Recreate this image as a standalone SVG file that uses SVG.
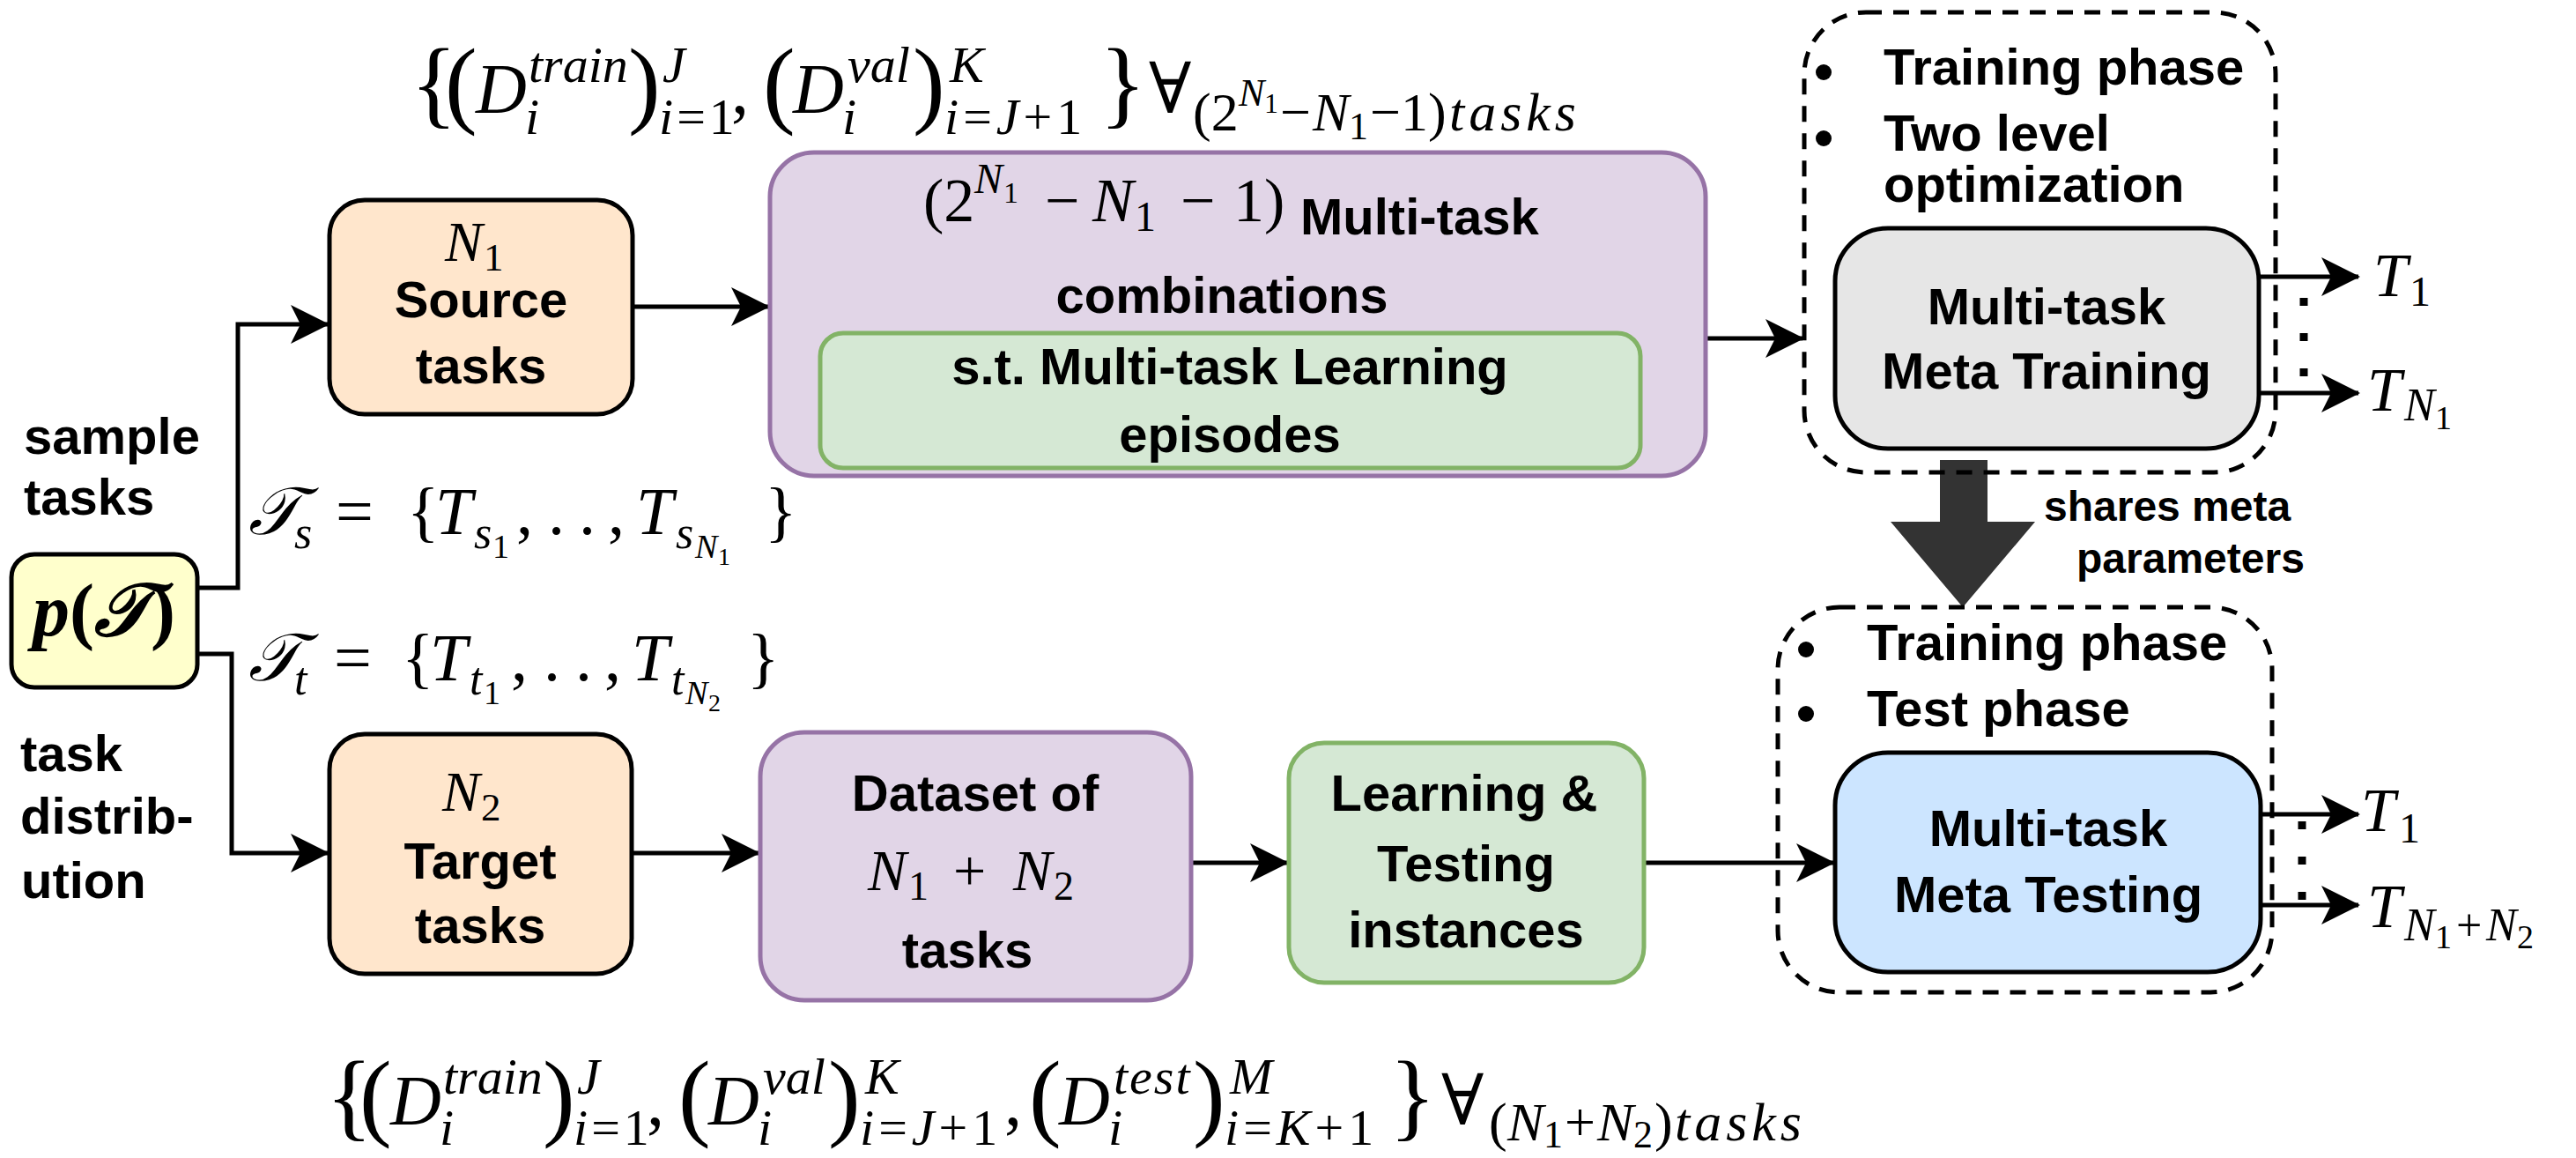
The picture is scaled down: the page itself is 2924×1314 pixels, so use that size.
<svg xmlns="http://www.w3.org/2000/svg" width="2924" height="1314" viewBox="0 0 2924 1314">
<style>
.t{font-family:"Liberation Sans",Arial,sans-serif;font-weight:700;font-size:58px;fill:#000}
.s48{font-size:48px}
.c{text-anchor:middle}
.m{font-family:"Liberation Serif","DejaVu Serif",serif;fill:#000}
.i{font-style:italic}
.box{stroke:#000;stroke-width:5}
.peach{fill:#ffe6cc}
.purple{fill:#e1d5e7;stroke:#9673a6;stroke-width:5}
.green{fill:#d5e8d4;stroke:#82b366;stroke-width:5}
.dash{fill:none;stroke:#000;stroke-width:5;stroke-dasharray:18 13}
.conn{fill:none;stroke:#000;stroke-width:5}
.dots{fill:none;stroke:#000;stroke-width:9;stroke-dasharray:9 31}
</style>
<defs>
<marker id="arr" markerUnits="userSpaceOnUse" markerWidth="44" markerHeight="44" viewBox="0 0 44 44" refX="42" refY="22" orient="auto">
<path d="M0,0 L44,22 L0,44 L11,22 Z" fill="#000"/>
</marker>
</defs>
<rect width="2924" height="1314" fill="#fff"/>

<g id="connectors">
<path class="conn" d="M224,667 H270 V368 H372" marker-end="url(#arr)"/>
<path class="conn" d="M224,742 H263 V968 H372" marker-end="url(#arr)"/>
<path class="conn" d="M718,348 H872" marker-end="url(#arr)"/>
<path class="conn" d="M1936,384 H2046" marker-end="url(#arr)"/>
<path class="conn" d="M717,968 H861" marker-end="url(#arr)"/>
<path class="conn" d="M1352,979 H1461" marker-end="url(#arr)"/>
<path class="conn" d="M1866,979 H2081" marker-end="url(#arr)"/>
<path class="conn" d="M2564,314 H2677" marker-end="url(#arr)"/>
<path class="conn" d="M2564,446 H2677" marker-end="url(#arr)"/>
<path class="conn" d="M2566,924 H2677" marker-end="url(#arr)"/>
<path class="conn" d="M2566,1027 H2677" marker-end="url(#arr)"/>
<path class="dots" d="M2615,338 V430"/>
<path class="dots" d="M2613,932 V1024"/>
<polygon points="2202,522 2256,522 2256,592 2310,592 2228,689 2146,592 2202,592" fill="#333"/>
</g>

<g id="label-shares">
<text class="t s48" x="2320" y="591">shares meta</text>
<text class="t s48" x="2357" y="650">parameters</text>
</g>

<g id="node-ptask">
<rect class="box" x="13" y="629" width="211" height="151" rx="26" fill="#ffffcc"/>
<text class="m" font-size="84" font-weight="700" x="118" y="721" text-anchor="middle"><tspan class="i">p</tspan>(<tspan class="i">𝒯</tspan>)</text>
</g>

<g id="label-left">
<text class="t" x="27" y="515">sample</text>
<text class="t" x="27" y="584">tasks</text>
<text class="t" x="23" y="875">task</text>
<text class="t" x="23" y="946">distrib-</text>
<text class="t" x="24" y="1019">ution</text>
</g>

<g id="label-Ts">
<text class="m" font-size="76"><tspan x="282" y="606" class="i">𝒯</tspan><tspan x="334" y="622" font-size="52" class="i">s</tspan><tspan x="381" y="606">=</tspan><tspan x="462" y="606">{</tspan><tspan x="494" y="606" class="i">T</tspan><tspan x="538" y="622" font-size="52" class="i">s</tspan><tspan x="559" y="633" font-size="38">1</tspan><tspan x="586" y="606">,</tspan><tspan x="622" y="606">.</tspan><tspan x="657" y="606">.</tspan><tspan x="690" y="606">,</tspan><tspan x="722" y="606" class="i">T</tspan><tspan x="767" y="622" font-size="52" class="i">s</tspan><tspan x="789" y="633" font-size="38" class="i">N</tspan><tspan x="815" y="641" font-size="28">1</tspan><tspan x="868" y="606">}</tspan></text>
</g>

<g id="label-Tt">
<text class="m" font-size="76"><tspan x="282" y="772" class="i">𝒯</tspan><tspan x="334" y="788" font-size="52" class="i">t</tspan><tspan x="379" y="772">=</tspan><tspan x="456" y="772">{</tspan><tspan x="488" y="772" class="i">T</tspan><tspan x="533" y="788" font-size="52" class="i">t</tspan><tspan x="549" y="799" font-size="38">1</tspan><tspan x="580" y="772">,</tspan><tspan x="617" y="772">.</tspan><tspan x="653" y="772">.</tspan><tspan x="686" y="772">,</tspan><tspan x="717" y="772" class="i">T</tspan><tspan x="762" y="788" font-size="52" class="i">t</tspan><tspan x="778" y="799" font-size="38" class="i">N</tspan><tspan x="804" y="807" font-size="28">2</tspan><tspan x="848" y="772">}</tspan></text>
</g>

<g id="label-top-formula">
<text class="m" font-size="80"><tspan x="466" y="131" font-size="110">{</tspan><tspan x="505" y="131" font-size="110">(</tspan><tspan x="540" y="128" class="i">D</tspan><tspan x="600" y="93" font-size="58" class="i">train</tspan><tspan x="596" y="152" font-size="58" class="i">i</tspan><tspan x="713" y="131" font-size="110">)</tspan><tspan x="752" y="93" font-size="58" class="i">J</tspan><tspan x="748" y="152" font-size="58" letter-spacing="4"><tspan class="i">i</tspan>=1</tspan><tspan x="830" y="128">,</tspan><tspan x="866" y="131" font-size="110">(</tspan><tspan x="900" y="128" class="i">D</tspan><tspan x="962" y="93" font-size="58" class="i">val</tspan><tspan x="956" y="152" font-size="58" class="i">i</tspan><tspan x="1036" y="131" font-size="110">)</tspan><tspan x="1078" y="93" font-size="58" class="i">K</tspan><tspan x="1072" y="152" font-size="58" letter-spacing="5"><tspan class="i">i</tspan>=<tspan class="i">J</tspan>+1</tspan><tspan x="1248" y="131" font-size="110">}</tspan><tspan x="1304" y="128">∀</tspan><tspan x="1354" y="148" font-size="62">(2</tspan><tspan x="1406" y="120" font-size="44" class="i">N</tspan><tspan x="1435" y="128" font-size="32">1</tspan><tspan x="1453" y="148" font-size="62">−</tspan><tspan x="1490" y="148" font-size="62" class="i">N</tspan><tspan x="1531" y="158" font-size="44">1</tspan><tspan x="1555" y="148" font-size="62">−1)</tspan><tspan x="1645" y="148" font-size="62" class="i" letter-spacing="5">tasks</tspan></text>
</g>

<g id="label-bottom-formula">
<text class="m" font-size="80"><tspan x="370" y="1280" font-size="110">{</tspan><tspan x="408" y="1280" font-size="110">(</tspan><tspan x="443" y="1276" class="i">D</tspan><tspan x="503" y="1241" font-size="58" class="i">train</tspan><tspan x="499" y="1299" font-size="58" class="i">i</tspan><tspan x="616" y="1280" font-size="110">)</tspan><tspan x="655" y="1241" font-size="58" class="i">J</tspan><tspan x="651" y="1299" font-size="58" letter-spacing="4"><tspan class="i">i</tspan>=1</tspan><tspan x="734" y="1276">,</tspan><tspan x="770" y="1280" font-size="110">(</tspan><tspan x="804" y="1276" class="i">D</tspan><tspan x="866" y="1241" font-size="58" class="i">val</tspan><tspan x="860" y="1299" font-size="58" class="i">i</tspan><tspan x="940" y="1280" font-size="110">)</tspan><tspan x="982" y="1241" font-size="58" class="i">K</tspan><tspan x="976" y="1299" font-size="58" letter-spacing="5"><tspan class="i">i</tspan>=<tspan class="i">J</tspan>+1</tspan><tspan x="1140" y="1276">,</tspan><tspan x="1168" y="1280" font-size="110">(</tspan><tspan x="1202" y="1276" class="i">D</tspan><tspan x="1264" y="1241" font-size="58" class="i" letter-spacing="2">test</tspan><tspan x="1258" y="1299" font-size="58" class="i">i</tspan><tspan x="1354" y="1280" font-size="110">)</tspan><tspan x="1396" y="1241" font-size="58" class="i">M</tspan><tspan x="1390" y="1299" font-size="58" letter-spacing="5"><tspan class="i">i</tspan>=<tspan class="i">K</tspan>+1</tspan><tspan x="1577" y="1280" font-size="110">}</tspan><tspan x="1636" y="1276">∀</tspan><tspan x="1690" y="1294" font-size="62">(</tspan><tspan x="1711" y="1294" font-size="62" class="i">N</tspan><tspan x="1752" y="1302" font-size="44">1</tspan><tspan x="1776" y="1294" font-size="62">+</tspan><tspan x="1813" y="1294" font-size="62" class="i">N</tspan><tspan x="1854" y="1302" font-size="44">2</tspan><tspan x="1878" y="1294" font-size="62">)</tspan><tspan x="1901" y="1294" font-size="62" class="i" letter-spacing="5">tasks</tspan></text>
</g>

<g id="node-source">
<rect class="box peach" x="374" y="227" width="344" height="243" rx="40"/>
<text class="m" font-size="64"><tspan x="505" y="296" class="i">N</tspan><tspan x="549" y="307" font-size="45">1</tspan></text>
<text class="t c" x="546" y="360">Source</text>
<text class="t c" x="546" y="435">tasks</text>
</g>

<g id="node-combinations">
<rect class="purple" x="874" y="173" width="1062" height="367" rx="50"/>
<text class="m" font-size="70"><tspan x="1048" y="251">(2</tspan><tspan x="1106" y="219" font-size="48" class="i">N</tspan><tspan x="1139" y="230" font-size="34">1</tspan><tspan x="1186" y="251">−</tspan><tspan x="1240" y="251" class="i">N</tspan><tspan x="1288" y="262" font-size="48">1</tspan><tspan x="1340" y="251">−</tspan><tspan x="1400" y="251">1)</tspan></text>
<text class="t" x="1476" y="266">Multi-task</text>
<text class="t c" x="1387" y="355">combinations</text>
</g>

<g id="node-episodes">
<rect class="green" x="931" y="378" width="931" height="153" rx="26"/>
<text class="t c" x="1396" y="436">s.t. Multi-task Learning</text>
<text class="t c" x="1396" y="513">episodes</text>
</g>

<g id="node-training-group">
<rect class="dash" x="2048" y="14" width="535" height="522" rx="70"/>
<circle cx="2070" cy="82" r="9"/>
<circle cx="2070" cy="157" r="9"/>
<text class="t" x="2138" y="96">Training phase</text>
<text class="t" x="2138" y="171">Two level</text>
<text class="t" x="2138" y="229">optimization</text>
</g>

<g id="node-meta-training">
<rect class="box" x="2083" y="259" width="481" height="250" rx="60" fill="#e6e6e6"/>
<text class="t c" x="2323" y="368">Multi-task</text>
<text class="t c" x="2323" y="441">Meta Training</text>
</g>

<g id="label-T-top">
<text class="m" font-size="70"><tspan x="2694" y="336" class="i">T</tspan><tspan x="2735" y="347" font-size="48">1</tspan></text>
<text class="m" font-size="70"><tspan x="2687" y="466" class="i">T</tspan><tspan x="2729" y="477" font-size="52" class="i">N</tspan><tspan x="2764" y="487" font-size="38">1</tspan></text>
</g>

<g id="node-target">
<rect class="box peach" x="374" y="833" width="343" height="272" rx="40"/>
<text class="m" font-size="64"><tspan x="502" y="920" class="i">N</tspan><tspan x="546" y="931" font-size="45">2</tspan></text>
<text class="t c" x="545" y="997">Target</text>
<text class="t c" x="545" y="1070">tasks</text>
</g>

<g id="node-dataset">
<rect class="purple" x="863" y="831" width="489" height="304" rx="50"/>
<text class="t c" x="1107" y="920">Dataset of</text>
<text class="m" font-size="66"><tspan x="985" y="1010" class="i">N</tspan><tspan x="1031" y="1021" font-size="46">1</tspan><tspan x="1082" y="1010">+</tspan><tspan x="1150" y="1010" class="i">N</tspan><tspan x="1196" y="1021" font-size="46">2</tspan></text>
<text class="t c" x="1098" y="1098">tasks</text>
</g>

<g id="node-instances">
<rect class="green" x="1463" y="843" width="403" height="272" rx="40"/>
<text class="t c" x="1662" y="920">Learning &amp;</text>
<text class="t c" x="1664" y="1000">Testing</text>
<text class="t c" x="1664" y="1075">instances</text>
</g>

<g id="node-testing-group">
<rect class="dash" x="2018" y="689" width="561" height="437" rx="70"/>
<circle cx="2050" cy="737" r="9"/>
<circle cx="2050" cy="810" r="9"/>
<text class="t" x="2119" y="749">Training phase</text>
<text class="t" x="2119" y="824">Test phase</text>
</g>

<g id="node-meta-testing">
<rect class="box" x="2083" y="854" width="483" height="249" rx="60" fill="#cce5ff"/>
<text class="t c" x="2325" y="960">Multi-task</text>
<text class="t c" x="2325" y="1035">Meta Testing</text>
</g>

<g id="label-T-bottom">
<text class="m" font-size="70"><tspan x="2680" y="943" class="i">T</tspan><tspan x="2723" y="956" font-size="48">1</tspan></text>
<text class="m" font-size="70"><tspan x="2687" y="1052" class="i">T</tspan><tspan x="2729" y="1067" font-size="52" class="i">N</tspan><tspan x="2764" y="1076" font-size="38">1</tspan><tspan x="2788" y="1067" font-size="52">+</tspan><tspan x="2822" y="1067" font-size="52" class="i">N</tspan><tspan x="2857" y="1076" font-size="38">2</tspan></text>
</g>
</svg>
